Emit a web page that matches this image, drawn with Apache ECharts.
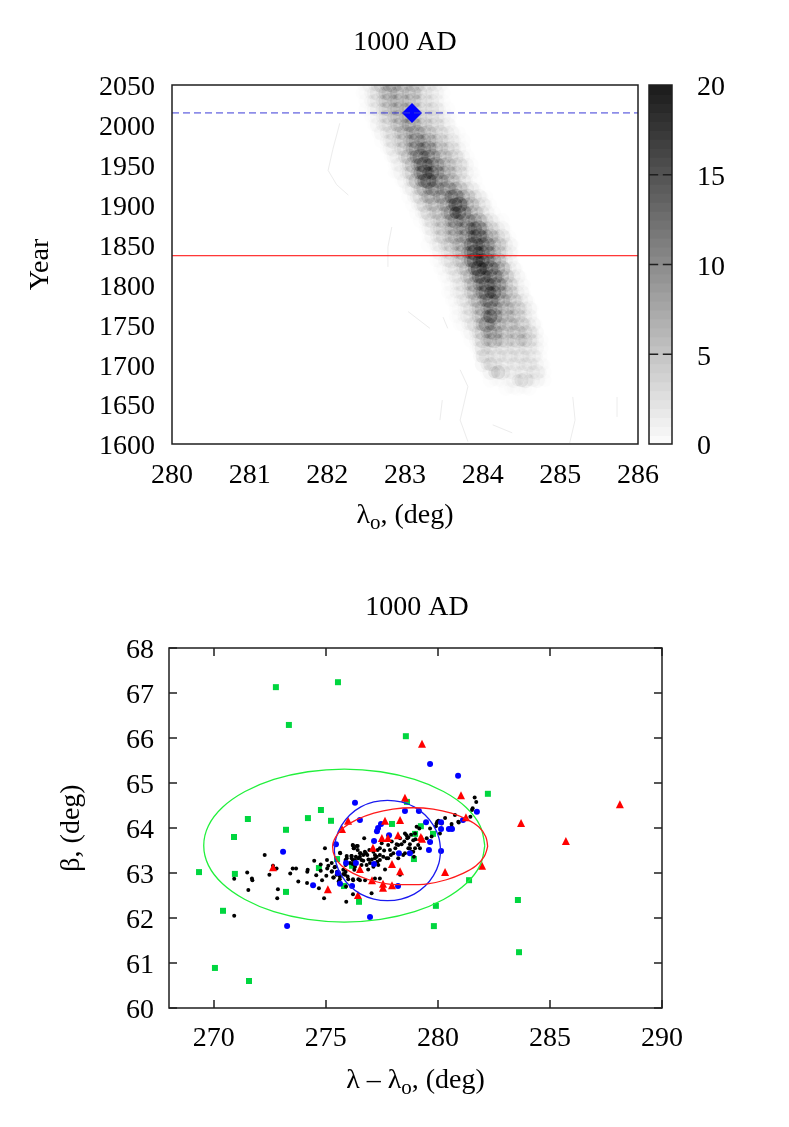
<!DOCTYPE html>
<html>
<head>
<meta charset="utf-8">
<title>1000 AD</title>
<script src="https://cdn.jsdelivr.net/npm/echarts@6/dist/echarts.min.js"></script>
<style>
  html, body { margin: 0; padding: 0; background: #fff; }
  #main { width: 789px; height: 1127px; }
</style>
</head>
<body>
<div id="main"></div>
<script>
// top panel: density rows, one per year, values start at heatStarts and step 0.05 deg
var heatYears = [2050,2040,2030,2020,2010,2000,1990,1980,1970,1960,1950,1940,1930,1920,1910,1900,1890,1880,1870,1860,1850,1840,1830,1820,1810,1800,1790,1780,1770,1760,1750,1740,1730,1720,1710,1700,1690,1680,1670];
var heatStarts = [282.45,282.45,282.5,282.5,282.55,282.6,282.65,282.7,282.75,282.8,282.85,282.85,282.95,283,283.05,283.1,283.15,283.2,283.25,283.3,283.3,283.4,283.4,283.45,283.5,283.55,283.55,283.6,283.65,283.65,283.7,283.8,283.85,283.9,283.95,284,284.05,284.1,284.3];
var heatRows = [
  [1,1,2,3,4,6,7,8,8,7,6,6,5,6,5,4,3,2,3,2,1,1],
  [1,1,2,3,4,5,7,8,7,7,6,5,6,7,6,4,3,2,3,2,1,1],
  [1,2,3,3,5,6,7,7,7,7,6,6,6,5,4,3,3,3,2,1,1],
  [1,1,2,3,4,5,6,7,7,7,8,6,5,5,4,3,3,4,3,2,1,1],
  [1,1,2,3,4,5,6,6,7,8,8,7,5,5,4,3,4,3,3,2,1,1],
  [1,2,3,3,4,5,6,7,8,9,8,7,6,5,4,4,4,3,2,2,1],
  [1,2,3,3,4,5,6,7,8,9,9,8,7,6,5,4,4,3,3,2,1,1],
  [1,2,3,4,4,5,6,8,9,11,10,9,8,7,6,5,4,3,3,2,1,1],
  [1,2,3,3,4,6,7,9,11,12,12,11,9,7,6,5,5,4,3,2,1],
  [1,2,2,3,5,7,9,11,13,13,12,10,8,7,6,5,5,4,3,2,1],
  [1,2,2,3,5,8,10,13,15,14,12,10,9,8,6,5,5,4,3,2,1],
  [1,1,2,3,4,6,9,12,15,16,14,11,9,9,7,6,5,4,3,2,1,1],
  [1,2,3,5,8,11,14,15,13,11,10,9,8,7,5,4,3,2,1,1],
  [1,2,3,4,7,9,11,11,10,10,9,10,11,9,7,5,4,3,2,1],
  [1,2,3,5,7,8,8,8,8,9,11,13,13,11,9,7,5,4,3,2,1],
  [1,2,3,5,6,6,6,7,7,9,13,16,15,11,9,7,5,4,3,2,1],
  [1,2,3,5,5,5,6,7,8,12,17,15,12,9,8,6,5,4,2,1,1],
  [1,2,3,4,5,5,6,7,10,12,11,10,10,11,11,8,6,5,3,2,1,1],
  [1,2,3,4,5,5,6,8,9,9,9,11,14,15,13,10,7,5,4,3,2,1],
  [1,2,3,4,5,5,7,8,8,8,10,13,15,14,12,11,8,6,5,4,2,1],
  [1,1,2,3,4,4,6,7,7,8,10,13,14,15,13,12,10,7,6,5,3,2,1],
  [1,2,2,3,4,5,6,8,11,13,16,16,14,12,10,8,6,4,3,2,1],
  [1,1,2,3,4,4,5,7,9,12,16,17,16,13,11,10,8,5,3,2,1],
  [1,1,2,3,3,4,5,7,9,13,17,16,14,13,12,10,8,5,3,2,1],
  [1,1,2,3,3,4,6,8,11,14,14,14,13,12,11,9,6,4,3,2,1],
  [1,1,2,3,3,5,7,9,12,13,14,14,13,11,9,7,5,3,2,1,1],
  [1,1,2,2,3,4,6,8,10,12,14,17,15,10,8,8,6,4,3,2,1],
  [1,1,2,3,3,5,6,8,10,12,13,12,9,8,7,6,5,4,3,2,1],
  [1,1,2,3,4,5,7,8,10,13,10,7,7,7,6,6,5,4,3,2,1],
  [1,1,2,3,3,4,6,8,12,16,12,8,7,6,7,6,5,4,3,2,1],
  [1,1,2,3,4,6,9,12,11,9,7,6,6,6,6,5,5,4,3,2,1],
  [1,2,3,4,7,9,10,9,8,6,5,5,6,6,6,5,4,3,2],
  [1,2,3,6,7,8,8,7,6,5,5,5,5,7,6,4,3,2,1],
  [1,2,5,4,3,3,3,3,3,3,3,3,3,3,3,2,2,1],
  [2,5,3,3,3,3,3,3,3,3,3,3,3,3,2,2,1],
  [3,4,5,3,3,2,2,2,3,2,3,3,3,3,2,1,1],
  [1,3,6,7,4,2,2,2,2,2,2,2,3,3,2,1],
  [1,1,1,1,1,1,2,4,5,4,3,2,2,1,1],
  [1,1,1,1,1,1,1]
];

// thin pale tracks away from the main band
var paleTracks = [
  [[282.16,2002],[282.07,1969],[282.01,1943],[282.12,1925],[282.27,1912]],
  [[282.83,1872],[282.78,1847],[282.78,1822]],
  [[283.04,1766],[283.32,1745]],
  [[283.49,1759],[283.55,1745]],
  [[283.71,1693],[283.81,1672],[283.71,1630],[283.81,1603]],
  [[283.48,1655],[283.45,1630]],
  [[285.16,1659],[285.19,1630],[285.12,1601]],
  [[284.13,1624],[284.38,1614]],
  [[285.73,1659],[285.73,1634]]
];

var blueLine = [[280,2015],[286,2015]];
var redLine = [[280,1836],[286,1836]];
var diamondPoint = [[283.09,2015]];

var colorbarValues = [0,0.5,1,1.5,2,2.5,3,3.5,4,4.5,5,5.5,6,6.5,7,7.5,8,8.5,9,9.5,10,10.5,11,11.5,12,12.5,13,13.5,14,14.5,15,15.5,16,16.5,17,17.5,18,18.5,19,19.5];
var colorbarTicks = [5,10,15];
var bottomTicks = [270,275,280,285,290];

// bottom panel: radiants
var greenPoints = [[272.77,67.13],[275.54,67.24],[278.57,66.04],[273.35,66.29],[282.23,64.76],[271.52,64.2],[270.9,63.8],[274.2,64.22],[274.78,64.4],[275.23,64.16],[273.22,63.96],[269.34,63.02],[270.94,62.98],[273.22,62.58],[270.41,62.16],[270.05,60.89],[271.57,60.6],[274.69,63.11],[276.48,62.36],[275.81,62.71],[278.93,63.31],[279.91,62.27],[279.82,61.82],[281.39,62.84],[283.57,62.4],[283.62,61.24],[277.95,64.09],[279.24,64.04],[278.98,63.87],[279.78,63.87],[278.62,64.58],[275.5,63.31],[276.17,63.16]];
var bluePoints = [[276.3,64.56],[276.52,64.18],[277.46,64.09],[277.33,64],[277.28,63.93],[278.53,64.38],[279.15,64.38],[279.65,65.42],[280.9,65.16],[279.47,64.13],[280.14,64.13],[280.14,63.98],[280.49,63.98],[280.63,63.98],[281.12,64.18],[281.74,64.36],[277.82,63.84],[275.45,63.64],[277.15,63.71],[279.65,63.69],[279.6,63.51],[280.14,63.49],[278.75,63.44],[278.26,63.44],[277.15,63.2],[276.34,63.22],[275.9,63.22],[275.54,63],[275.63,62.76],[276.17,62.71],[278.22,62.71],[276.97,62.02],[273.09,63.47],[274.43,62.73],[273.27,61.82]];
var redPoints = [[279.29,65.87],[278.53,64.67],[281.03,64.73],[281.25,64.24],[277.64,64.16],[278.31,64.18],[278.22,63.84],[279.24,63.8],[277.5,63.78],[283.71,64.11],[285.71,63.71],[288.12,64.53],[281.97,63.16],[280.32,63.02],[275.72,63.98],[275.99,64.16],[277.77,63.78],[279.29,63.76],[277.1,63.56],[277.95,63.2],[278.31,63.04],[277.06,62.84],[277.55,62.76],[277.55,62.67],[277.95,62.73],[276.43,62.51],[276.52,63.09],[272.64,63.13],[275.09,62.64]];
var blackPoints = [[272.27,63.4],[270.91,62.87],[271.7,62.88],[271.72,62.84],[271.49,63.01],[272.48,62.96],[272.8,63.1],[272.64,63.16],[273.41,62.99],[273.52,63.1],[273.67,63.1],[272.86,62.64],[271.54,62.62],[272.83,62.44],[270.91,62.05],[273.77,62.81],[274.16,62.78],[274.69,62.66],[274.92,62.44],[274.19,63.07],[274.17,63.03],[274.48,63.27],[274.77,63.19],[274.77,63.05],[274.57,62.95],[274.83,62.84],[275.02,62.94],[275.35,62.9],[275.05,63.29],[274.96,63.55],[275.26,63.22],[275.11,63.16],[275.06,63.1],[275.39,63.13],[275.27,63.04],[275.5,63.03],[275.62,62.86],[275.59,62.99],[275.78,62.98],[275.88,63.03],[275.64,63.44],[275.57,62.81],[275.6,62.77],[275.9,62.7],[276.21,62.53],[275.91,62.36],[275.97,62.92],[276.21,62.86],[276.45,62.86],[276.21,63.61],[276.24,63.55],[276.42,63.6],[275.93,63.33],[276.14,63.38],[275.88,63.29],[276.3,63.29],[276.2,63.2],[275.88,63.18],[276.27,63.07],[276.52,63.44],
  [276.71,63.77],[276.2,63.62],[276.26,63.55],[276.38,63.6],[275.63,63.45],[275.93,63.38],[276.15,63.38],[276.34,63.36],[276.55,63.44],[276.67,63.4],[276.79,63.44],[276.94,63.51],[277.12,63.47],[277.31,63.51],[277.41,63.55],[277.49,63.66],[277.78,63.62],[277.86,63.51],[278.16,63.64],[278.38,63.64],[278.53,63.88],[278.63,63.77],[278.9,63.73],[278.75,63.64],[278.75,63.55],[278.98,63.55],[279.12,63.62],[279.5,63.77],[279.65,63.99],[279.94,64.1],[279.05,64.03],[279.17,63.99],[280.02,64.16],[280.91,64.14],[280.61,64.09],[277.41,63.4],[277.27,63.36],[276.97,63.22],[276.82,63.18],[276.67,63.27],[276.45,63.33],[276.2,63.29],[276.08,63.22],[275.78,63.07],[275.48,62.96],[275.33,62.9],[275.26,63.03],[275.41,63.14],[275.63,62.92],[275.85,62.96],[276,62.86],[276.22,62.84],[276.52,62.84],[276.75,62.84],[277.19,62.88],[277.41,62.88],[277.64,63.08],[278.31,62.96],[277.04,62.55],[279.2,63.55],[278.83,63.47],[278.53,63.44],[278.01,63.44],[277.71,63.33],[277.41,63.29],[277.12,63.14],[276.89,63.08],[276.59,63.18],[276.3,63.14],[277.19,63.33],[277.56,63.36],[276.74,63.47],[278.93,63.36],[277.94,63.7],[278.98,63.88],[279.72,63.81],[280.17,64.1],
  [281.64,64.68],[281.71,64.58],[281.55,64.44],[281.52,64.4],[281.45,64.25],[280.76,64.29],[280.93,64.12],[280.32,64.22],[280.12,64.14],[279.97,64.14],[279.91,64.04],[280.61,64.03],[280.09,63.88],[278.6,63.84],[278.68,63.79],[278.31,63.77],
  [278.23,63.62],[278.68,63.55],[278.9,63.47],[277.78,63.33],[277.19,63.4],[276.52,63.36],[276.42,63.51],[277.34,63.18],[276.59,63.29],[276.15,63.33],[278.45,63.4],[278.23,63.33],[277.6,63.5],[277.9,63.4],[278.1,63.55],[277.3,63.25],[276.9,63.3],[276.85,63.4],[277.05,63.3],[278.5,63.7],[279,63.75],[278.8,63.85]];

// ellipse outlines
var greenEllipse = [[282.09,63.61],[281.88,64.05],[281.25,64.46],[280.25,64.81],[278.96,65.08],[277.44,65.25],[275.82,65.31],[274.2,65.25],[272.68,65.08],[271.39,64.81],[270.39,64.46],[269.76,64.05],[269.55,63.61],[269.76,63.17],[270.39,62.76],[271.39,62.41],[272.68,62.14],[274.2,61.97],[275.82,61.91],[277.44,61.97],[278.96,62.14],[280.25,62.41],[281.25,62.76],[281.88,63.17],[282.09,63.61]];
var blueEllipse = [[280.12,63.5],[280.04,63.79],[279.8,64.06],[279.43,64.29],[278.94,64.47],[278.36,64.58],[277.75,64.615],[277.14,64.58],[276.56,64.47],[276.07,64.29],[275.7,64.06],[275.46,63.79],[275.38,63.5],[275.46,63.21],[275.7,62.94],[276.07,62.71],[276.56,62.53],[277.14,62.42],[277.75,62.385],[278.36,62.42],[278.94,62.53],[279.43,62.71],[279.8,62.94],[280.04,63.21],[280.12,63.5]];
var redEllipse = [[282.22,63.59],[282.13,63.81],[281.83,64.02],[281.3,64.19],[280.6,64.33],[279.79,64.42],[278.89,64.45],[277.99,64.42],[277.14,64.33],[276.4,64.19],[275.83,64.02],[275.45,63.81],[275.3,63.59],[275.39,63.37],[275.7,63.16],[276.22,62.99],[276.92,62.85],[277.74,62.76],[278.63,62.74],[279.54,62.76],[280.38,62.85],[281.12,62.99],[281.7,63.16],[282.07,63.37],[282.22,63.59]];

var serif = '"Liberation Serif", "Times New Roman", serif';
var inkColor = '#1f1f1f';

// flatten the density rows for the custom series
var heatData = [];
heatRows.forEach(function (row, i) {
  row.forEach(function (v, j) {
    heatData.push([heatStarts[i] + j * 0.05, heatYears[i], v]);
  });
});

// soft overlapping rings, the picture is built from many overlapping tracks
function renderHeat(params, api) {
  var p = api.coord([api.value(0), api.value(1)]);
  var alpha = 1 - Math.pow(1 - api.value(2) / 20, 1 / 5.5);
  return {
    type: 'circle',
    shape: { cx: p[0], cy: p[1], r: 6 + params.dataIndex * 7 % 3 },
    style: { fill: 'rgba(0,0,0,' + alpha + ')', stroke: 'rgba(0,0,0,' + alpha * 0.35 + ')', lineWidth: 0.6 }
  };
}

function renderColorbar(params, api) {
  var v = api.value(0);
  var a = api.coord([0, v + 0.5]);
  var b = api.coord([1, v]);
  var g = Math.round(250 - v / 20 * 226);
  return {
    type: 'rect',
    shape: { x: a[0], y: a[1], width: b[0] - a[0], height: b[1] - a[1] + 1 },
    style: { fill: 'rgb(' + g + ',' + g + ',' + g + ')' }
  };
}

// gnuplot draws the bar ticks from both sides with a gap in the middle
function renderBarTick(params, api) {
  var v = api.value(0);
  var p0 = api.coord([0, v]);
  var p1 = api.coord([0.4, v]);
  var p2 = api.coord([0.6, v]);
  var p3 = api.coord([1, v]);
  var tickStyle = { stroke: inkColor, lineWidth: 1.5 };
  return {
    type: 'group',
    children: [
      { type: 'line', shape: { x1: p0[0], y1: p0[1], x2: p1[0], y2: p1[1] }, style: tickStyle },
      { type: 'line', shape: { x1: p2[0], y1: p2[1], x2: p3[0], y2: p3[1] }, style: tickStyle }
    ]
  };
}

var labelStyle = { fontFamily: serif, fontSize: 28, color: '#000' };
var nameRich = {
  a: { fontFamily: serif, fontSize: 28, color: '#000' },
  s: { fontFamily: serif, fontSize: 21, color: '#000', padding: [15, 0, 0, 0] }
};

function plainLabel(opts) {
  return Object.assign({}, labelStyle, opts);
}

// y labels sit a little low in the reference, a rich token with top padding moves them
function loweredLabel(margin) {
  return {
    margin: margin,
    formatter: function (v) { return '{v|' + v + '}'; },
    rich: { v: Object.assign({ padding: [6, 0, 0, 0] }, labelStyle) }
  };
}

function pointSeries(data, symbol, size, color) {
  return {
    type: 'scatter',
    xAxisIndex: 2,
    yAxisIndex: 2,
    data: data,
    symbol: symbol,
    symbolSize: size,
    itemStyle: { color: color, opacity: 1 },
    silent: true
  };
}

function ellipseSeries(data, color) {
  return {
    type: 'line',
    xAxisIndex: 2,
    yAxisIndex: 2,
    data: data,
    smooth: 0.35,
    symbol: 'none',
    lineStyle: { color: color, width: 1.3 },
    silent: true
  };
}

var series = [
  {
    type: 'custom',
    xAxisIndex: 0,
    yAxisIndex: 0,
    data: heatData,
    renderItem: renderHeat,
    clip: true,
    silent: true
  }
];

paleTracks.forEach(function (track) {
  series.push({
    type: 'line',
    xAxisIndex: 0,
    yAxisIndex: 0,
    data: track,
    symbol: 'none',
    lineStyle: { color: '#ececec', width: 1 },
    silent: true
  });
});

series.push(
  {
    type: 'line',
    xAxisIndex: 0,
    yAxisIndex: 0,
    data: blueLine,
    symbol: 'none',
    lineStyle: { color: '#3a3ad8', width: 1, type: [7, 4] },
    silent: true
  },
  {
    type: 'line',
    xAxisIndex: 0,
    yAxisIndex: 0,
    data: redLine,
    symbol: 'none',
    lineStyle: { color: '#ff0000', width: 1 },
    silent: true
  },
  {
    type: 'scatter',
    xAxisIndex: 0,
    yAxisIndex: 0,
    data: diamondPoint,
    symbol: 'diamond',
    symbolSize: 20,
    itemStyle: { color: '#0000ff', opacity: 1 },
    silent: true
  },
  {
    type: 'custom',
    xAxisIndex: 1,
    yAxisIndex: 1,
    data: colorbarValues.map(function (v) { return [v]; }),
    encode: { y: 0 },
    renderItem: renderColorbar,
    silent: true
  },
  {
    type: 'custom',
    xAxisIndex: 1,
    yAxisIndex: 1,
    z: 3,
    data: colorbarTicks.map(function (v) { return [v]; }),
    encode: { y: 0 },
    renderItem: renderBarTick,
    silent: true
  },
  pointSeries(greenPoints, 'rect', 6, '#00d63f'),
  pointSeries(blackPoints, 'circle', 4, '#000000'),
  pointSeries(bluePoints, 'circle', 6, '#0000ff'),
  pointSeries(redPoints, 'triangle', 8, '#ff0000'),
  ellipseSeries(greenEllipse, '#22f03c'),
  ellipseSeries(blueEllipse, '#1a1af0'),
  ellipseSeries(redEllipse, '#ff1a1a')
);

var titleStyle = { fontFamily: serif, fontSize: 28, fontWeight: 'normal', color: '#000' };
var gridBox = { show: true, borderColor: inkColor, borderWidth: 1.5, z: 5 };

var myChart = echarts.init(document.getElementById('main'), null, { renderer: 'canvas' });
myChart.setOption({
  animation: false,
  backgroundColor: '#ffffff',
  title: [
    { text: '1000 AD', left: 400, top: 24, textAlign: 'center', textStyle: titleStyle },
    { text: '1000 AD', left: 412, top: 589, textAlign: 'center', textStyle: titleStyle }
  ],
  grid: [
    Object.assign({ left: 172, top: 85, width: 466, height: 359 }, gridBox),
    Object.assign({ left: 649, top: 85, width: 23, height: 359 }, gridBox),
    Object.assign({ left: 169, top: 648, width: 493, height: 360 }, gridBox)
  ],
  xAxis: [
    {
      gridIndex: 0, type: 'value', min: 280, max: 286, interval: 1,
      axisLine: { show: false }, axisTick: { show: false }, splitLine: { show: false },
      axisLabel: plainLabel({ margin: 18 }),
      name: '{a|λ}{s|o}{a|, (deg)}', nameLocation: 'middle', nameGap: 54,
      nameTextStyle: { rich: nameRich }
    },
    { gridIndex: 1, type: 'value', min: 0, max: 1, show: false },
    {
      gridIndex: 2, type: 'value', min: 268, max: 290,
      axisLine: { show: false }, splitLine: { show: false },
      axisTick: { inside: true, length: 8, customValues: bottomTicks, lineStyle: { color: inkColor, width: 1.5 } },
      axisLabel: plainLabel({ margin: 17, customValues: bottomTicks }),
      name: '{a|λ – λ}{s|o}{a|, (deg)}', nameLocation: 'middle', nameGap: 55,
      nameTextStyle: { rich: nameRich }
    },
    {
      gridIndex: 2, type: 'value', min: 268, max: 290, position: 'top',
      axisLine: { show: false }, splitLine: { show: false }, axisLabel: { show: false },
      axisTick: { inside: true, length: 8, customValues: bottomTicks, lineStyle: { color: inkColor, width: 1.5 } }
    }
  ],
  yAxis: [
    {
      gridIndex: 0, type: 'value', min: 1600, max: 2050, interval: 50,
      axisLine: { show: false }, axisTick: { show: false }, splitLine: { show: false },
      axisLabel: loweredLabel(17),
      name: 'Year', nameLocation: 'middle', nameGap: 117, nameRotate: 90,
      nameTextStyle: labelStyle
    },
    {
      gridIndex: 1, type: 'value', min: 0, max: 20, interval: 5, position: 'right',
      axisLine: { show: false }, splitLine: { show: false }, axisTick: { show: false },
      axisLabel: loweredLabel(25)
    },
    {
      gridIndex: 2, type: 'value', min: 60, max: 68, interval: 1,
      axisLine: { show: false }, splitLine: { show: false },
      axisTick: { inside: true, length: 8, lineStyle: { color: inkColor, width: 1.5 } },
      axisLabel: loweredLabel(15),
      name: 'β, (deg)', nameLocation: 'middle', nameGap: 83, nameRotate: 90,
      nameTextStyle: labelStyle
    },
    {
      gridIndex: 2, type: 'value', min: 60, max: 68, interval: 1, position: 'right',
      axisLine: { show: false }, splitLine: { show: false }, axisLabel: { show: false },
      axisTick: { inside: true, length: 8, lineStyle: { color: inkColor, width: 1.5 } }
    }
  ],
  series: series
});
</script>
</body>
</html>
